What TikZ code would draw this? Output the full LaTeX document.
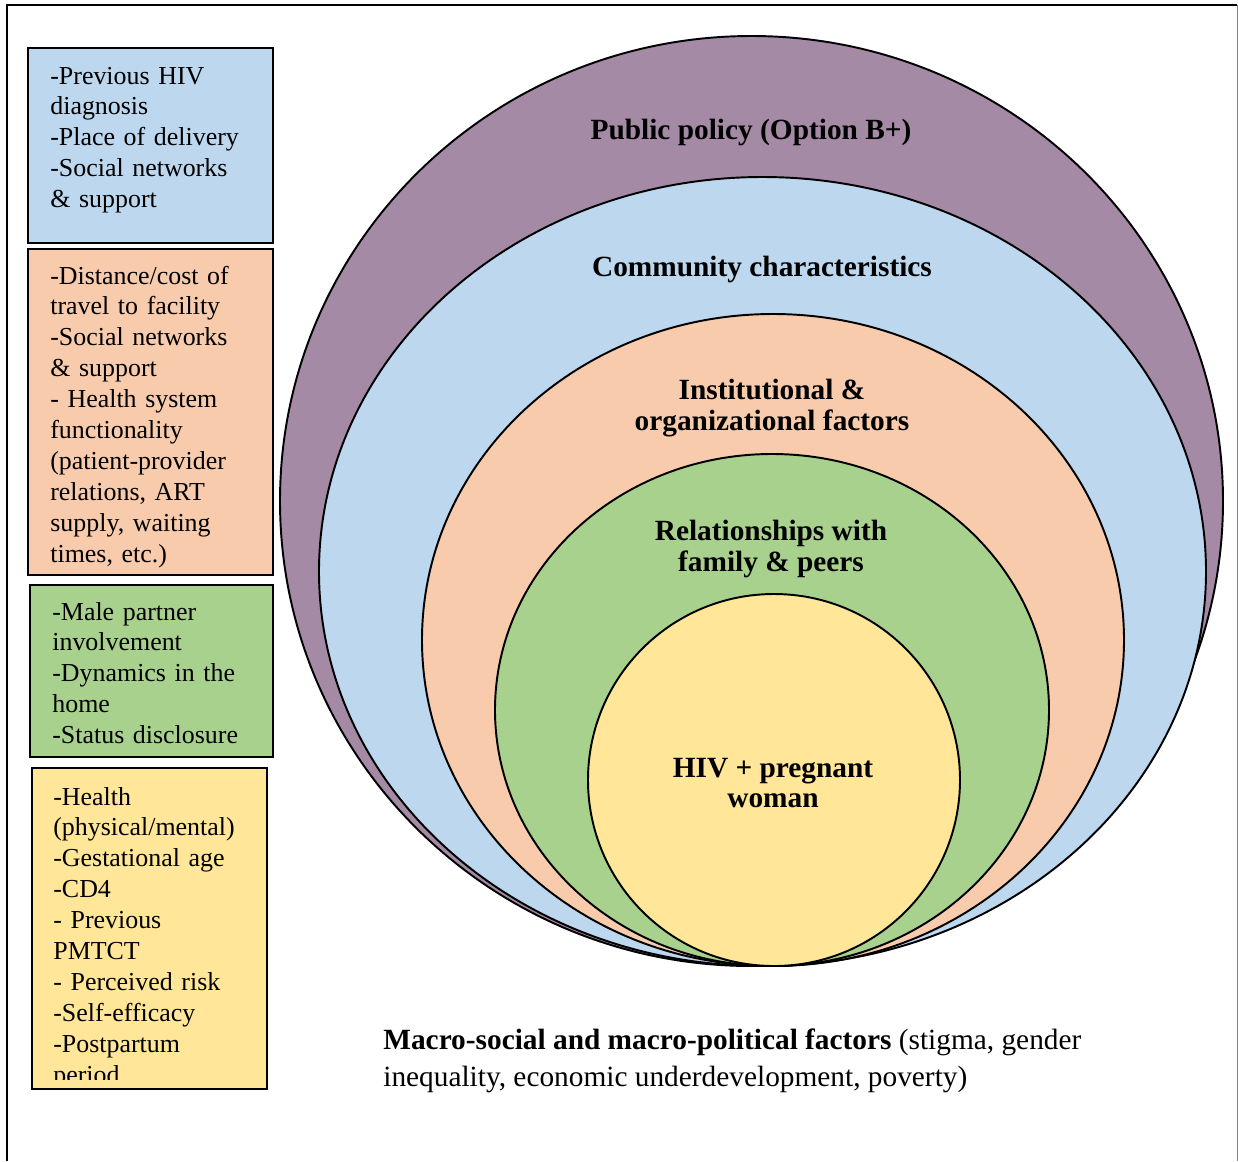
\documentclass[tikz,border=0pt]{standalone}
\usepackage{fontspec}
\setmainfont{Liberation Serif}
\usepackage{tikz}

\definecolor{policypurple}{RGB}{165,138,166}
\definecolor{commblue}{RGB}{189,215,238}
\definecolor{instorange}{RGB}{248,203,173}
\definecolor{famgreen}{RGB}{169,209,142}
\definecolor{womanyellow}{RGB}{255,230,153}

\begin{document}
\begin{tikzpicture}[x=0.02cm,y=-0.02cm,
    ring/.style={draw=black,line width=1.1pt},
    sidebox/.style={draw=black,line width=1.3pt},
    boxtext/.style={anchor=base west,inner sep=0pt,align=left,text width=260*0.02cm,
        font=\fontsize{14.75}{17.6}\selectfont},
    ringlabel/.style={inner sep=0pt,align=center,font=\fontsize{16.7}{17.6}\selectfont\bfseries}]
            \useasboundingbox (0,0) rectangle (1238,1161);
            % frame
            \draw[line width=1.2pt] (7,1161) -- (7,5) -- (1237,5);
            \draw[gray,line width=0.5pt] (1237,5) -- (1237,1161);
            % nested rings, all touching at the bottom
            \filldraw[ring,fill=policypurple] (751.5,501) ellipse [x radius=471.5,y radius=465];
            \filldraw[ring,fill=commblue] (762.5,571.5) ellipse [x radius=443.5,y radius=394.5];
            \filldraw[ring,fill=instorange] (773,640) ellipse [x radius=351,y radius=326];
            \filldraw[ring,fill=famgreen] (772,710) ellipse [x radius=277,y radius=256];
            \filldraw[ring,fill=womanyellow] (774,780) ellipse [x radius=186,y radius=186];
            \node[ringlabel] (policy) at (751,132) {Public policy (Option B+)};
            \node[ringlabel] (community) at (762,269) {Community characteristics};
            \node[ringlabel] (institution) at (772,408) {Institutional \&\\organizational factors};
            \node[ringlabel] (family) at (771,549) {Relationships with\\family \& peers};
            \node[ringlabel] (woman) at (773,783) {HIV + pregnant\\woman};
            % side boxes
            \filldraw[sidebox,fill=commblue] (28,48) rectangle (273,243);
            \node[boxtext] (commtext) at (50,84) {-Previous HIV\\diagnosis\\-Place of delivery\\-Social networks\\\& support};
            \filldraw[sidebox,fill=instorange] (28,249) rectangle (273,575);
            \node[boxtext] (insttext) at (50,284) {-Distance/cost of\\travel to facility\\-Social networks\\\& support\\- Health system\\functionality\\(patient-provider\\relations, ART\\supply, waiting\\times, etc.)};
            \filldraw[sidebox,fill=famgreen] (30,585) rectangle (273,757);
            \node[boxtext] (famtext) at (52,620) {-Male partner\\involvement\\-Dynamics in the\\home\\-Status disclosure};
            \filldraw[sidebox,fill=womanyellow] (32,768) rectangle (267,1089);
            \begin{scope}
                \clip (32,768) rectangle (267,1079);
                \node[boxtext] (womantext) at (53,805) {-Health\\(physical/mental)\\-Gestational age\\-CD4\\- Previous\\PMTCT\\- Perceived risk\\-Self-efficacy\\-Postpartum\\period};
            \end{scope}
            % macro level factors
            \node[anchor=base west,inner sep=0pt,align=left,font=\fontsize{16.7}{21}\selectfont] (macro) at (383,1086)
                {\textbf{Macro-social and macro-political factors} (stigma, gender\\inequality, economic underdevelopment, poverty)};
        \end{tikzpicture}
\end{document}
